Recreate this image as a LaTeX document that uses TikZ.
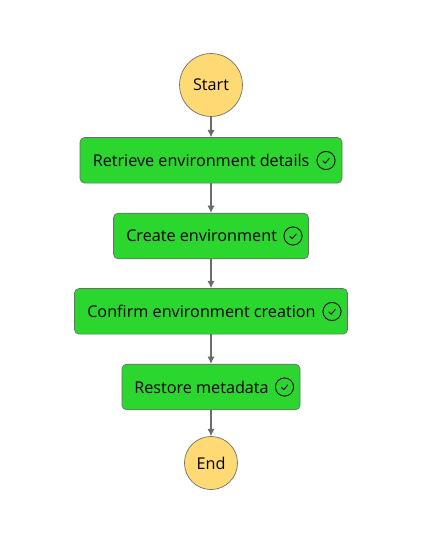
\documentclass[tikz,border=0pt]{standalone}
\usepackage{fontspec}
\setmainfont{Open Sans}
\usepackage{tikz}
\usetikzlibrary{arrows.meta}
\definecolor{taskgreen}{HTML}{2BD62E}
\definecolor{termyellow}{HTML}{FFD974}
\definecolor{edgegray}{HTML}{6B6B6B}
\tikzset{
  taskbox/.style={draw=edgegray,fill=taskgreen,rounded corners=3.5pt,line width=0.5pt,minimum height=34.2pt,inner sep=0pt},
  termnode/.style={circle,draw=edgegray,fill=termyellow,line width=0.5pt,inner sep=0pt,font=\fontsize{12.15}{14}\selectfont},
  tasklabel/.style={anchor=west,inner sep=0pt,font=\fontsize{12.15}{14}\selectfont},
  donering/.style={circle,draw=black,line width=0.65pt,minimum size=13.6pt,inner sep=0pt},
  flow/.style={draw=edgegray,line width=0.8pt,-{Latex[length=5.5pt,width=5.5pt]}}
}
\newcommand{\donetick}[1]{\draw[black,line width=0.65pt,line cap=round,line join=round] ([shift={(-3,0.5)}]#1.center) -- ([shift={(-0.8,2.7)}]#1.center) -- ([shift={(3.2,-2)}]#1.center);}
\begin{document}
\begin{tikzpicture}[x=0.75pt,y=-0.75pt]
\useasboundingbox (0,0) rectangle (429,538);
\fill[white] (0,0) rectangle (429,538);
% states
\node[termnode,minimum size=47.2pt] (start) at (211,85) {Start};
\node[taskbox,minimum width=196.5pt] (retrieve) at (211,160.3) {};
\node[taskbox,minimum width=146.2pt] (create) at (211,236) {};
\node[taskbox,minimum width=204.8pt] (confirm) at (211,311.3) {};
\node[taskbox,minimum width=133.5pt] (restore) at (211,387) {};
\node[termnode,minimum size=39.8pt] (end) at (211,463) {End};
% labels
\node[tasklabel] (retrievetext) at (92.5,160.3) {Retrieve environment details};
\node[tasklabel] (createtext) at (126,236) {Create environment};
\node[tasklabel] (confirmtext) at (87,311.3) {Confirm environment creation};
\node[tasklabel] (restoretext) at (134,387) {Restore metadata};
% status icons
\node[donering] (retrievering) at (326,160.5) {};
\node[donering] (createring) at (293,236) {};
\node[donering] (confirmring) at (332,311.5) {};
\node[donering] (restorering) at (284.5,387) {};
\donetick{retrievering}
\donetick{createring}
\donetick{confirmring}
\donetick{restorering}
% edges
\draw[flow] (start) -- (retrieve);
\draw[flow] (retrieve) -- (create);
\draw[flow] (create) -- (confirm);
\draw[flow] (confirm) -- (restore);
\draw[flow] (restore) -- (end);
\end{tikzpicture}
\end{document}
